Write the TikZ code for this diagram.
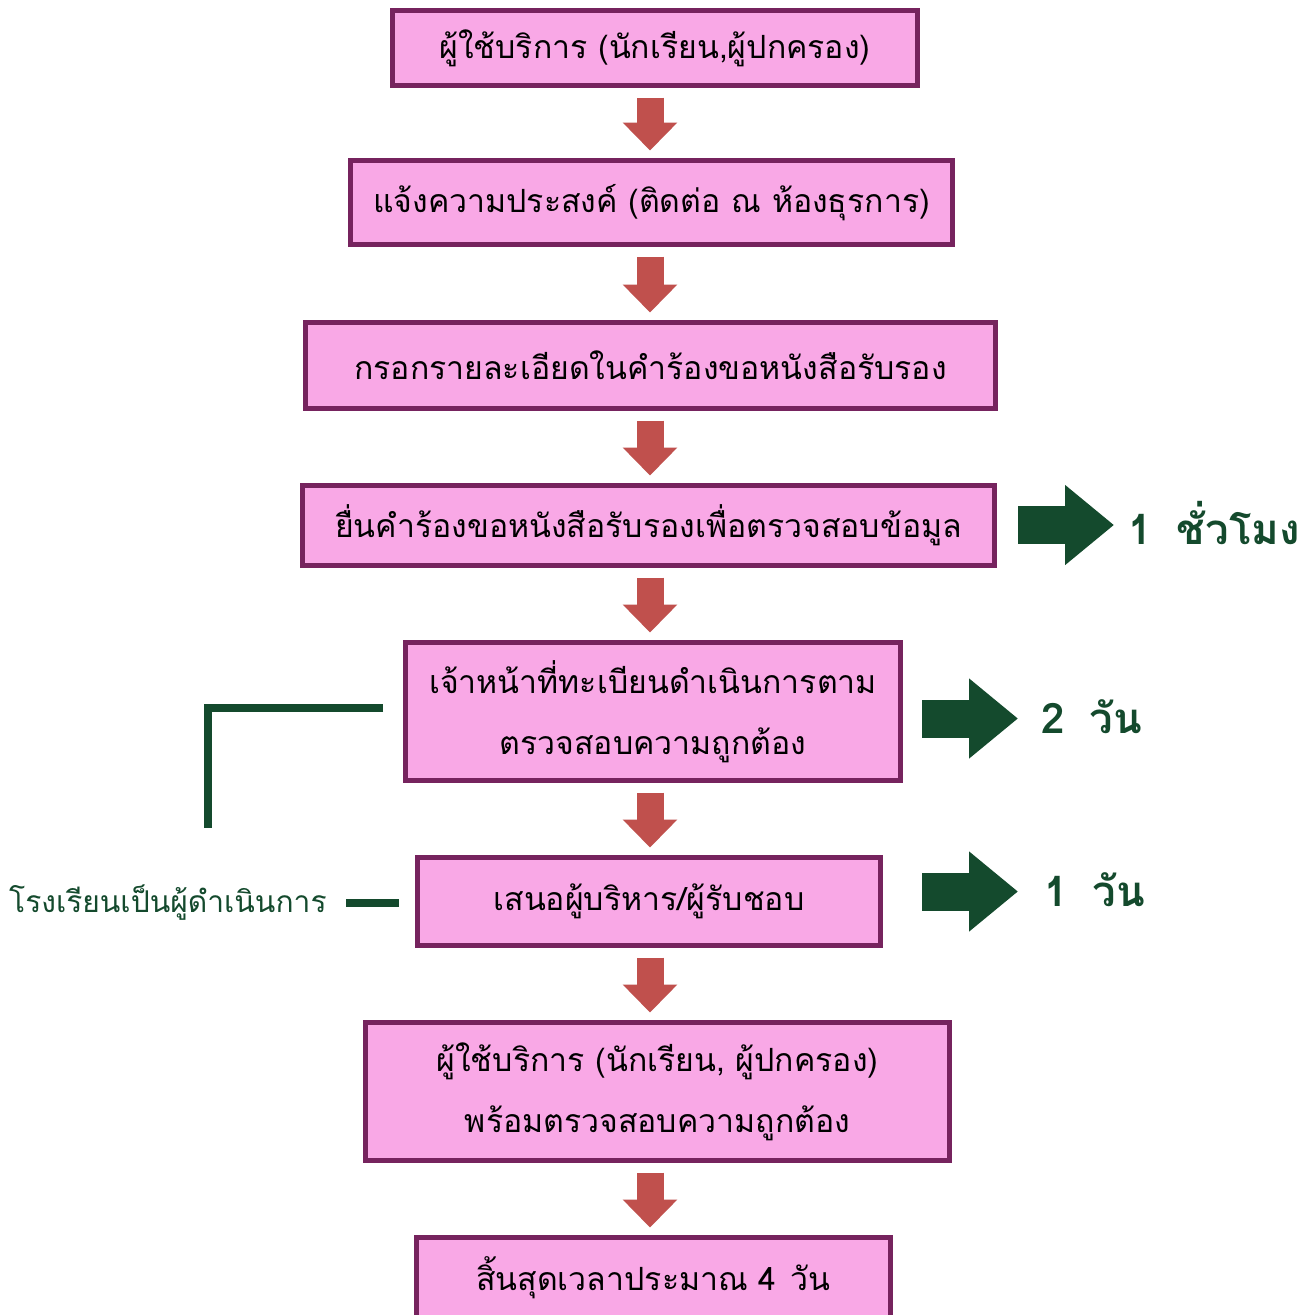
\documentclass[tikz,border=0pt]{standalone}
\usepackage{fontspec}
\usetikzlibrary{arrows.meta}
\newfontfamily\thai[Script=Thai]{Loma}
\definecolor{boxfill}{RGB}{249,168,230}
\definecolor{boxline}{RGB}{118,35,94}
\definecolor{flowred}{RGB}{192,80,77}
\definecolor{darkgreen}{RGB}{20,74,45}

\begin{document}
\begin{tikzpicture}[x=0.5pt,y=-0.5pt,
  stepbox/.style={draw=boxline, fill=boxfill, line width=2.5pt, inner sep=0pt,
    outer sep=0pt, align=center, font=\thai\fontsize{16}{30.5}\selectfont},
  downarrow/.style={draw=flowred, line width=13.5pt,
    -{Triangle[width=26.5pt,length=14pt]}, shorten <=6pt, shorten >=5pt},
  sidearrow/.style={draw=darkgreen, line width=19pt,
    -{Triangle[width=38.5pt,length=24.5pt]}},
  timelabel/.style={text=darkgreen, inner sep=0pt, anchor=west,
    font=\thai\bfseries\fontsize{21}{24}\selectfont},
  gline/.style={draw=darkgreen, line width=4pt},
]
\useasboundingbox (0,0) rectangle (1315,1314);
\clip (0,0) rectangle (1315,1314);
\fill[white] (0,0) rectangle (1315,1314);

% flow column
\coordinate (col) at (650,0);

% process steps
\node[stepbox, minimum width=262.5pt, minimum height=37.5pt] (b1) at (655,48)
  {ผู้ใช้บริการ (นักเรียน,ผู้ปกครอง)};
\node[stepbox, minimum width=301pt, minimum height=42pt] (b2) at (651.5,202.5)
  {แจ้งความประสงค์ (ติดต่อ ณ ห้องธุรการ)};
\node[stepbox, minimum width=345pt, minimum height=43pt] (b3) at (650.5,365.5)
  {กรอกรายละเอียดในคำร้องขอหนังสือรับรอง};
\node[stepbox, minimum width=346pt, minimum height=40pt] (b4) at (648.5,525.5)
  {ยื่นคำร้องขอหนังสือรับรองเพื่อตรวจสอบข้อมูล};
\node[stepbox, minimum width=247.5pt, minimum height=69pt] (b5) at (653,711.5)
  {เจ้าหน้าที่ทะเบียนดำเนินการตาม\\ตรวจสอบความถูกต้อง};
\node[stepbox, minimum width=231.5pt, minimum height=44pt] (b6) at (649,901.5)
  {เสนอผู้บริหาร/ผู้รับชอบ};
\node[stepbox, minimum width=292pt, minimum height=69pt] (b7) at (657.5,1091.5)
  {ผู้ใช้บริการ (นักเรียน, ผู้ปกครอง)\\พร้อมตรวจสอบความถูกต้อง};
\node[stepbox, minimum width=237pt, minimum height=40pt] (b8) at (653.5,1277.5)
  {สิ้นสุดเวลาประมาณ 4\hspace{0.45em}วัน};

% arrows between steps
\draw[downarrow] (b1.south -| col) -- (b2.north -| col);
\draw[downarrow] (b2.south -| col) -- (b3.north -| col);
\draw[downarrow] (b3.south -| col) -- (b4.north -| col);
\draw[downarrow] (b4.south -| col) -- (b5.north -| col);
\draw[downarrow] (b5.south -| col) -- (b6.north -| col);
\draw[downarrow] (b6.south -| col) -- (b7.north -| col);
\draw[downarrow] (b7.south -| col) -- (b8.north -| col);

% time labels
\node[timelabel] (t1) at (1128,523) {1\hspace{0.6em}ชั่วโมง};
\node[timelabel] (t2) at (1041,716.5) {2\hspace{0.6em}วัน};
\node[timelabel] (t3) at (1044,889.5) {1\hspace{0.6em}วัน};

\draw[sidearrow, shorten <=11.75pt, shorten >=7pt] (b4.east |- 0,525) -- (t1.west |- 0,525);
\draw[sidearrow, shorten <=10.75pt, shorten >=11.5pt] (b5.east |- 0,718.5) -- (t2.west |- 0,718.5);
\draw[sidearrow, shorten <=20.75pt, shorten >=13pt] (b6.east |- 0,891.5) -- (t3.west |- 0,891.5);

% school-side note
\node[text=darkgreen, inner sep=0pt, anchor=east,
  font=\thai\fontsize{15}{18}\selectfont] (note) at (327,902.5)
  {โรงเรียนเป็นผู้ดำเนินการ};
\draw[gline, shorten <=9.5pt, shorten >=9.25pt] (note.east) -- (note.east -| b6.west);

\coordinate (brA) at (383,707.5);
\coordinate (brB) at (207.5,707.5);
\coordinate (brC) at (207.5,828);
\draw[gline] (brA) -- (brB) -- (brC);
\end{tikzpicture}
\end{document}
